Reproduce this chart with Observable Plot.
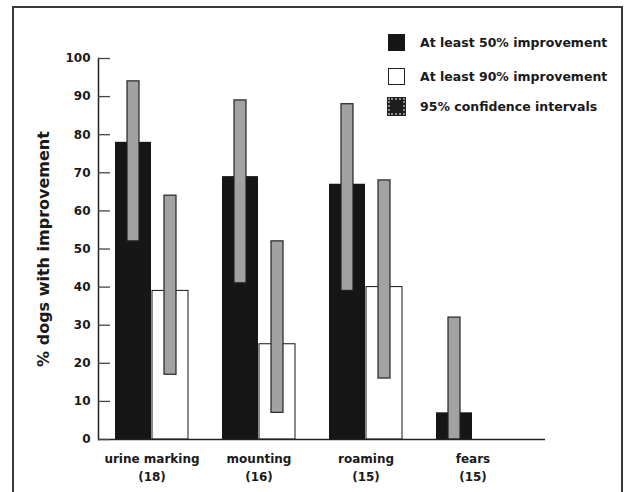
<!DOCTYPE html>
<html><head><meta charset="utf-8">
<script src="https://cdn.jsdelivr.net/npm/d3@7"></script>
<script src="https://cdn.jsdelivr.net/npm/@observablehq/plot@0.6"></script>
<style>
html,body{margin:0;padding:0;background:#fff;}
#wrap{position:relative;width:626px;height:492px;overflow:hidden;font-family:"DejaVu Sans",sans-serif;background:#fff;}
#frame{position:absolute;left:12px;top:6px;width:607px;height:520px;border:2px solid #3a3a3a;border-bottom:none;pointer-events:none;}
.lg{position:absolute;left:388px;height:19px;display:flex;align-items:center;font-weight:bold;font-size:12.5px;color:#1a1a1a;white-space:nowrap;}
.sw{width:17px;height:17px;box-sizing:border-box;margin-right:15px;flex:none;}
</style></head><body>
<div id="wrap"><div id="chart"></div><div id="frame"></div><div id="legend"></div></div>
<script>
// ---- data ----
const categories = ["urine marking", "mounting", "roaming", "fears"];
const counts = [18, 16, 15, 15];
const improve50 = [78, 69, 67, 7];
const improve90 = [39, 25, 40, 0];
const ci50Low = [52, 41, 39, 0];
const ci50High = [94, 89, 88, 32];
const ci90Low = [17, 7, 16, null];
const ci90High = [64, 52, 68, null];
const yTicks = [0, 10, 20, 30, 40, 50, 60, 70, 80, 90, 100];
const legendLabels = ["At least 50% improvement", "At least 90% improvement", "95% confidence intervals"];

const data = categories.map((c, i) => ({
  category: c, count: counts[i], p50: improve50[i], p90: improve90[i],
  lo50: ci50Low[i], hi50: ci50High[i], lo90: ci90Low[i], hi90: ci90High[i]
}));

const W = 626, H = 492, mL = 98, mR = 81;
const bw = 74, half = bw / 2, ciW = 13, side = (half - ciW) / 2;
const tickLen = 12;
const gray = "#a2a2a2";

const chart = Plot.plot({
  width: W, height: H,
  marginLeft: mL, marginRight: mR, marginTop: 58, marginBottom: 53,
  style: {fontFamily: "DejaVu Sans", fontWeight: "bold", fontSize: "12px", color: "#1a1a1a", background: "transparent"},
  x: {domain: categories, paddingInner: 0.315, paddingOuter: 0.227, align: 0.316, label: null},
  y: {domain: [0, 100], label: null},
  marks: [
    Plot.barY(data, {x: "category", y: "p50", fill: "#161616", insetRight: half}),
    Plot.barY(data.filter(d => d.p90 > 0), {x: "category", y: "p90", fill: "white", stroke: "#151515", strokeWidth: 1, insetLeft: half}),
    Plot.barY(data, {x: "category", y1: "lo50", y2: "hi50", fill: gray, stroke: "#222", strokeWidth: 1.2, insetLeft: side, insetRight: half + side}),
    Plot.barY(data.filter(d => d.hi90 != null), {x: "category", y1: "lo90", y2: "hi90", fill: gray, stroke: "#222", strokeWidth: 1.2, insetLeft: half + side, insetRight: side}),
    Plot.ruleY([0], {stroke: "#222", strokeWidth: 1.5}),
    Plot.frame({anchor: "left", stroke: "#222", strokeWidth: 1.5}),
    // ticks shifted to point inward (right of the axis line)
    Plot.axisY({ticks: yTicks, tickSize: tickLen, dx: tickLen, tickPadding: 8, stroke: "#444", strokeWidth: 1.3, label: null}),
    Plot.axisX({tickSize: 0, tickPadding: 11, lineHeight: 1.5, label: null,
      tickFormat: d => `${d}\n(${counts[categories.indexOf(d)]})`}),
    Plot.text(["% dogs with improvement"], {frameAnchor: "left", textAnchor: "middle", rotate: -90, dx: -55, fontSize: 16, fontWeight: "bold", fill: "#1a1a1a"})
  ]
});
document.getElementById("chart").append(chart);

// legend (HTML, placed inside the frame at top right)
const legend = document.getElementById("legend");
const swStyles = [
  "background:#161616;",
  "background:#fff;border:1px solid #222;",
  "background:#1e1e1e;border:2px dotted #8a8a8a;outline:1px solid #222;"
];
const tops = [33, 67, 97];
legendLabels.forEach((t, i) => {
  const row = document.createElement("div");
  row.className = "lg";
  row.style.top = tops[i] + "px";
  const sw = document.createElement("div");
  sw.className = "sw";
  sw.style.cssText += swStyles[i];
  const tx = document.createElement("span");
  tx.textContent = t;
  row.append(sw, tx);
  legend.append(row);
});
</script>
</body></html>
